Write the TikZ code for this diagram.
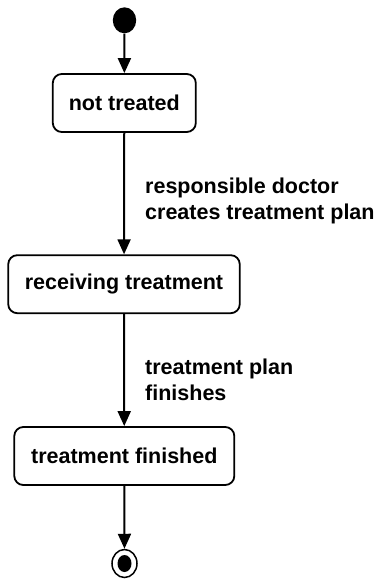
\documentclass[tikz,border=0pt]{standalone}
\usepackage{fontspec}
\setmainfont{Liberation Sans}
\usetikzlibrary{arrows.meta,shapes.geometric}
\begin{document}
\begin{tikzpicture}[x=1pt,y=-1pt,
  statebox/.style={draw, line width=1.8pt, rounded corners=9pt, inner sep=0pt,
    font=\fontsize{21.5}{25}\selectfont\bfseries},
  trans/.style={draw, line width=2pt, -{Triangle[length=15pt,width=13pt]}},
  guard/.style={anchor=base west, inner sep=0pt, align=left,
    font=\fontsize{21.5}{26}\selectfont\bfseries}]
  \useasboundingbox (0,0) rectangle (381,579);

  % initial pseudo-state
  \node[ellipse, fill, inner sep=0pt, minimum width=23.4pt, minimum height=26pt] (init) at (124.5,20.3) {};

  % states
  \node[statebox, minimum width=143pt, minimum height=58pt] (s1) at (124.3,103) {not treated};
  \node[statebox, minimum width=231.5pt, minimum height=58pt] (s2) at (124,284.2) {receiving treatment};
  \node[statebox, minimum width=220pt, minimum height=58pt] (s3) at (124.3,456) {treatment finished};

  % final state
  \node[ellipse, draw, line width=1.5pt, inner sep=0pt, minimum width=25pt, minimum height=28pt] (fin) at (124.5,563.5) {};
  \node[ellipse, fill, inner sep=0pt, minimum width=14pt, minimum height=17pt] (finin) at (fin.center) {};

  % transitions
  \draw[trans] (init) -- (s1);
  \draw[trans] (s1) -- (s2);
  \draw[trans] (s2) -- (s3);
  \draw[trans] (s3) -- (fin);

  % transition labels
  \node[guard] (g1) at (145,219.5) {responsible doctor\\creates treatment plan};
  \node[guard] (g2) at (145,400) {treatment plan\\finishes};
\end{tikzpicture}
\end{document}
